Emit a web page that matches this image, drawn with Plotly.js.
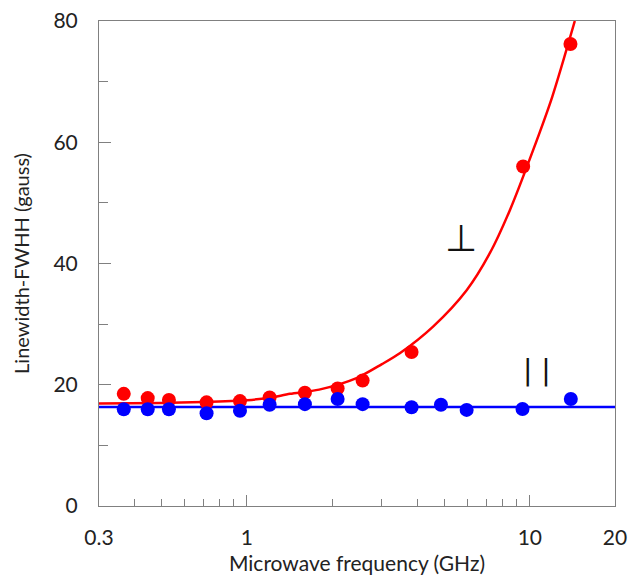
<!DOCTYPE html>
<html>
<head>
<meta charset="utf-8">
<script src="https://cdn.plot.ly/plotly-3.0.1.min.js"></script>
<style>html,body{margin:0;padding:0;background:#fff;}#chart{width:630px;height:575px;}</style>
</head>
<body>
<div id="chart"></div>
<script>
// Perpendicular (red) measured points
const perpFreq = [0.367, 0.446, 0.530, 0.720, 0.945, 1.203, 1.603, 2.092, 2.564, 3.819, 9.47, 13.92];
const perpWidth = [18.5, 17.8, 17.5, 17.1, 17.3, 17.9, 18.7, 19.4, 20.7, 25.4, 56.0, 76.2];

// Parallel (blue) measured points
const paraFreq = [0.367, 0.446, 0.530, 0.720, 0.945, 1.203, 1.603, 2.092, 2.564, 3.819, 4.85, 5.98, 9.42, 13.96];
const paraWidth = [15.95, 15.95, 15.95, 15.3, 15.7, 16.7, 16.8, 17.65, 16.8, 16.3, 16.7, 15.85, 16.0, 17.65];

// Red fit curve
const perpFitFreq = [0.3, 0.5, 0.7, 1.0, 1.2, 1.42, 1.8, 2.44, 3.0, 3.47, 4.55, 5.98, 7.22, 8.5, 10.27, 12.0, 14.42];
const perpFitWidth = [16.9, 17.0, 17.15, 17.45, 17.85, 18.5, 19.2, 21.1, 23.4, 25.2, 29.6, 35.6, 41.7, 48.8, 58.7, 67.5, 80.0];

// Blue fit line
const paraFitFreq = [0.3, 20];
const paraFitWidth = [16.35, 16.35];

// Tick labels
const xTickVals = [0.3, 1, 10, 20];
const xTickText = ["0.3", "1", "10", "20"];
const xMinorVals = [0.4, 0.5, 0.6, 0.7, 0.8, 0.9, 2, 3, 4, 5, 6, 7, 8, 9];
const yTickVals = [0, 20, 40, 60, 80];

const FONT = "Lato, 'Open Sans', sans-serif";

const traces = [
  {x: paraFitFreq, y: paraFitWidth, mode: "lines", line: {color: "#0000ff", width: 2.5}, hoverinfo: "skip"},
  {x: perpFitFreq, y: perpFitWidth, mode: "lines", line: {color: "#ff0000", width: 2.5, shape: "spline", smoothing: 0.8}, hoverinfo: "skip"},
  {x: perpFreq, y: perpWidth, mode: "markers", marker: {color: "#ff0000", size: 14}},
  {x: paraFreq, y: paraWidth, mode: "markers", marker: {color: "#0000ff", size: 14}}
];

const layout = {
  width: 630, height: 575,
  margin: {l: 99, r: 15, t: 21, b: 69, pad: 0},
  paper_bgcolor: "#ffffff", plot_bgcolor: "#ffffff",
  showlegend: false,
  font: {family: FONT, color: "#222222", size: 21},
  xaxis: {
    type: "log",
    range: [Math.log10(0.3), Math.log10(20)],
    tickmode: "array", tickvals: xTickVals, ticktext: xTickText,
    ticks: "inside", ticklen: 11, tickcolor: "#808080", tickwidth: 1,
    minor: {tickmode: "array", tickvals: xMinorVals, ticks: "inside", ticklen: 7, tickcolor: "#808080", tickwidth: 1, showgrid: false},
    showline: true, linecolor: "#808080", linewidth: 1, mirror: true,
    showgrid: false, zeroline: false,
    tickfont: {family: FONT, size: 21, color: "#222222"},
    ticklabelstandoff: 13,
    title: {text: "Microwave frequency (GHz)", font: {family: FONT, size: 21, color: "#222222"}, standoff: 11}
  },
  yaxis: {
    range: [0, 80],
    tickmode: "array", tickvals: yTickVals,
    ticks: "inside", ticklen: 12, tickcolor: "#808080", tickwidth: 1,
    minor: {dtick: 10, ticks: "inside", ticklen: 9, tickcolor: "#808080", tickwidth: 1, showgrid: false},
    showline: true, linecolor: "#808080", linewidth: 1, mirror: true,
    showgrid: false, zeroline: false,
    tickfont: {family: FONT, size: 21, color: "#222222"},
    ticklabelstandoff: 16,
    title: {text: "Linewidth-FWHH (gauss)", font: {family: FONT, size: 20, color: "#222222"}, standoff: 18}
  },
  annotations: [
    {x: Math.log10(5.71), y: 44.2, xref: "x", yref: "y", text: "⊥", showarrow: false,
     font: {family: "DejaVu Sans", size: 37, color: "#111111"}},
    {x: Math.log10(10.6), y: 22.4, xref: "x", yref: "y", text: "| |", showarrow: false,
     font: {family: "DejaVu Sans", size: 28, color: "#111111"}}
  ]
};

Plotly.newPlot("chart", traces, layout, {displayModeBar: false, staticPlot: true});
</script>
</body>
</html>
